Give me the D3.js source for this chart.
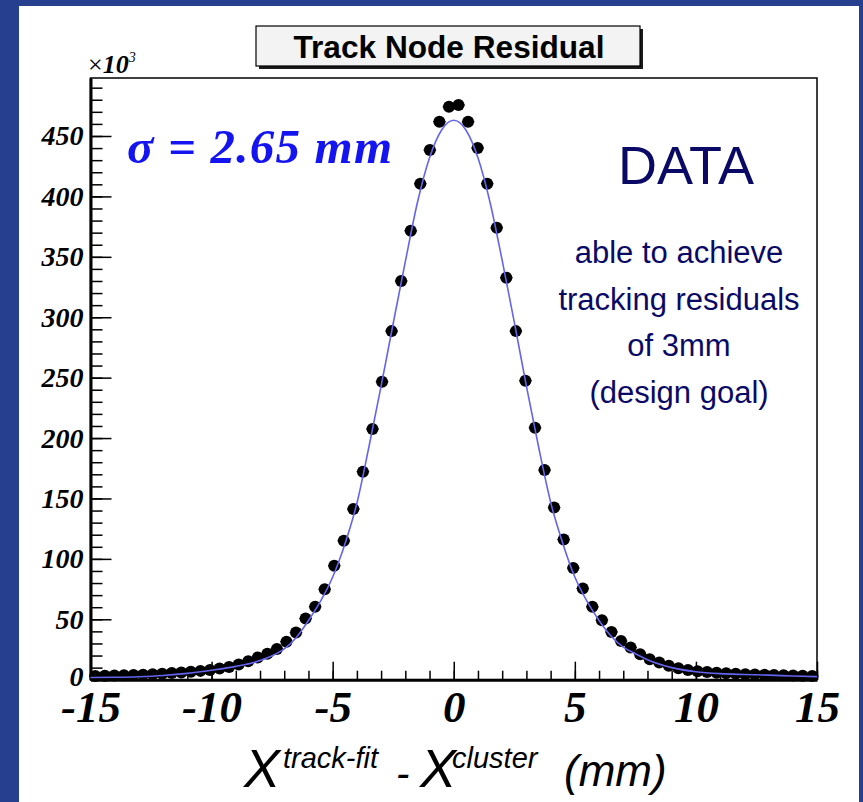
<!DOCTYPE html>
<html><head><meta charset="utf-8">
<script src="https://cdn.jsdelivr.net/npm/d3@7"></script>
<style>body{margin:0;background:#26408f;overflow:hidden}</style>
</head><body><svg id="c" width="863" height="802"></svg>
<script>
// ---- data (thousands of entries per bin) ----
const binRange = [-15, 15];
const counts = [
  3.0, 3.2, 3.4, 3.6, 3.9, 4.2, 4.6, 5.0, 5.5, 6.0,
  6.6, 7.3, 8.1, 9.2, 10.6, 12.5, 15.2, 18.3, 21.5, 25.5,
  31.5, 39.0, 50.6, 60.4, 74.8, 94.3, 115.0, 141.2, 172.2, 207.5,
  246.6, 288.5, 330.0, 371.5, 410.5, 438.4, 461.8, 474.2,
  475.6, 461.8, 440.0, 410.5, 374.0, 332.7, 288.5, 247.5, 208.5, 173.5,
  142.5, 116.0, 92.5, 75.5, 60.3, 49.3, 39.5, 32.0, 26.7, 21.0,
  17.0, 14.3, 11.6, 9.5, 8.0, 7.0, 6.3, 5.7, 5.3, 4.9,
  4.6, 4.3, 4.0, 3.8, 3.6, 3.4, 3.2, 3.0
];
const fitX = [-15, -14, -13, -12, -11, -10, -9, -8, -7.5, -7, -6.5, -6, -5.5, -5, -4.5, -4, -3.5, -3, -2.5, -2, -1.5, -1, -0.5, 0,
              0.5, 1, 1.5, 2, 2.5, 3, 3.5, 4, 4.5, 5, 5.5, 6, 6.5, 7, 7.5, 8, 9, 10, 11, 12, 13, 14, 15];
const fitY = [1.8, 2.0, 2.5, 3.5, 5.2, 7.8, 11.0, 15.8, 19.8, 25.5, 35, 49, 65, 85, 112, 146, 193, 243, 295, 346, 395, 432, 455, 463,
              455, 432, 395, 347, 296, 243, 193, 147, 113, 85, 65, 49, 36, 27, 21.5, 16.5, 10, 6.6, 5.0, 4.3, 3.8, 3.0, 2.5];
const xMajorTicks = [-15, -10, -5, 0, 5, 10, 15];
const xMinorTicks = d3.range(-15, 16, 1);
const yMajorTicks = [0, 50, 100, 150, 200, 250, 300, 350, 400, 450];
const yMinorTicks = d3.range(0, 500, 10);
const yDomain = [0, 498];
const titleText = "Track Node Residual";
const sigmaText = "\u03c3 = 2.65 mm";
const dataLabel = "DATA";
const noteLines = ["able to achieve", "tracking residuals", "of 3mm", "(design goal)"];

// ---- drawing ----
const svg = d3.select("#c");
svg.append("rect").attr("width", 863).attr("height", 802).attr("fill", "#26408f");
svg.append("rect").attr("x", 19).attr("y", 6).attr("width", 840).attr("height", 796).attr("fill", "#ffffff");

const L = 90.5, R = 817, T = 78, B = 679.7;
const x = d3.scaleLinear().domain(binRange).range([L, R]);
const y = d3.scaleLinear().domain(yDomain).range([B, T]);

const nb = counts.length, bw = (binRange[1] - binRange[0]) / nb;
const bins = counts.map((v, i) => ({ lo: binRange[0] + i * bw, hi: binRange[0] + (i + 1) * bw, c: binRange[0] + (i + 0.5) * bw, v }));

// frame
svg.append("rect").attr("x", L).attr("y", T).attr("width", R - L).attr("height", B - T)
  .attr("fill", "none").attr("stroke", "#000").attr("stroke-width", 1.5);

const serifBI = "'Liberation Serif','Times New Roman',serif";
const sans = "'Liberation Sans',Arial,sans-serif";

// x axis
const gxm = svg.append("g").attr("transform", `translate(0,${B})`)
  .call(d3.axisBottom(x).tickValues(xMinorTicks).tickSize(-9).tickFormat(""));
gxm.select(".domain").remove();
const gx = svg.append("g").attr("transform", `translate(0,${B})`)
  .call(d3.axisBottom(x).tickValues(xMajorTicks).tickSize(-18).tickSizeOuter(0).tickFormat(d => String(d)));
gx.select(".domain").attr("stroke-width", 3);
svg.selectAll("g.tick line").attr("stroke-width", 1.5);
gx.selectAll("text").attr("y", 42).attr("dy", 0)
  .style("font-family", serifBI).style("font-weight", "bold").style("font-style", "italic")
  .style("font-size", "45px").attr("fill", "#000");

// y axis
const gym = svg.append("g").attr("transform", `translate(${L},0)`)
  .call(d3.axisLeft(y).tickValues(yMinorTicks).tickSize(-12).tickFormat(""));
gym.select(".domain").remove();
const gy = svg.append("g").attr("transform", `translate(${L},0)`)
  .call(d3.axisLeft(y).tickValues(yMajorTicks).tickSize(-21).tickSizeOuter(0).tickFormat(d => String(d)));
gy.select(".domain").attr("stroke-width", 3);
gym.selectAll("line").attr("stroke-width", 1.5);
gy.selectAll("line").attr("stroke-width", 1.5);
gy.selectAll("text").attr("x", -7).attr("dy", d => d === 0 ? "0.22em" : "0.32em")
  .style("font-family", serifBI).style("font-weight", "bold").style("font-style", "italic")
  .style("font-size", "28px").attr("fill", "#000");

// x10^3
const ex = svg.append("text").attr("x", 88).attr("y", 73).style("font-family", serifBI).attr("fill", "#000");
ex.append("tspan").text("\u00d7").style("font-size", "26px");
ex.append("tspan").text("10").style("font-size", "26px").style("font-weight", "bold").style("font-style", "italic");
ex.append("tspan").text("3").attr("dy", -11).style("font-size", "14px").style("font-style", "italic");

// data points
const pts = svg.append("g");
pts.selectAll("line.eb").data(bins).join("line")
  .attr("x1", d => x(d.lo) - 1.5).attr("x2", d => x(d.hi) + 1.5)
  .attr("y1", d => y(d.v)).attr("y2", d => y(d.v))
  .attr("stroke", "#000").attr("stroke-width", 1.2);
pts.selectAll("circle").data(bins).join("circle")
  .attr("cx", d => x(d.c)).attr("cy", d => y(d.v)).attr("r", 6).attr("fill", "#000");

// fit curve
const line = d3.line().x((d, i) => x(fitX[i])).y(d => y(d)).curve(d3.curveMonotoneX);
svg.append("path").attr("d", line(fitY)).attr("fill", "none").attr("stroke", "#6464ee").attr("stroke-width", 1.6);

// title box
svg.append("rect").attr("x", 259).attr("y", 29).attr("width", 384).attr("height", 40).attr("fill", "#1a1a1a");
svg.append("rect").attr("x", 256).attr("y", 26).attr("width", 384).attr("height", 40)
  .attr("fill", "#f3f3f3").attr("stroke", "#000").attr("stroke-width", 1.2);
svg.append("text").attr("x", 449).attr("y", 58).attr("text-anchor", "middle")
  .attr("textLength", 311).attr("lengthAdjust", "spacingAndGlyphs")
  .style("font-family", sans).style("font-weight", "bold").style("font-size", "31px")
  .text(titleText);

// sigma label
svg.append("text").attr("x", 127).attr("y", 163)
  .attr("textLength", 265).attr("lengthAdjust", "spacing")
  .style("font-family", serifBI).style("font-weight", "bold").style("font-style", "italic").style("font-size", "49px")
  .attr("fill", "#1414f0").text(sigmaText);

// DATA + note
svg.append("text").attr("x", 686).attr("y", 184).attr("text-anchor", "middle")
  .style("font-family", sans).style("font-size", "54px").attr("fill", "#0a0a66").text(dataLabel);
svg.append("g").selectAll("text").data(noteLines).join("text")
  .attr("x", 679).attr("y", (d, i) => 263 + i * 46.5).attr("text-anchor", "middle")
  .style("font-family", sans).style("font-size", "31px").attr("fill", "#0a0a66")
  .text(d => d);

// x-axis title
const xt = svg.append("g").style("font-family", sans).style("font-style", "italic").attr("fill", "#000");
xt.append("text").attr("x", 244).attr("y", 787).style("font-size", "54px").text("X");
xt.append("text").attr("x", 283).attr("y", 768).style("font-size", "29px").text("track-fit");
xt.append("text").attr("x", 396).attr("y", 787).style("font-size", "40px").text("-");
xt.append("text").attr("x", 420).attr("y", 787).style("font-size", "54px").text("X");
xt.append("text").attr("x", 452).attr("y", 768).style("font-size", "29px").text("cluster");
xt.append("text").attr("x", 564).attr("y", 786).style("font-size", "44px").text("(mm)");
</script></body></html>
